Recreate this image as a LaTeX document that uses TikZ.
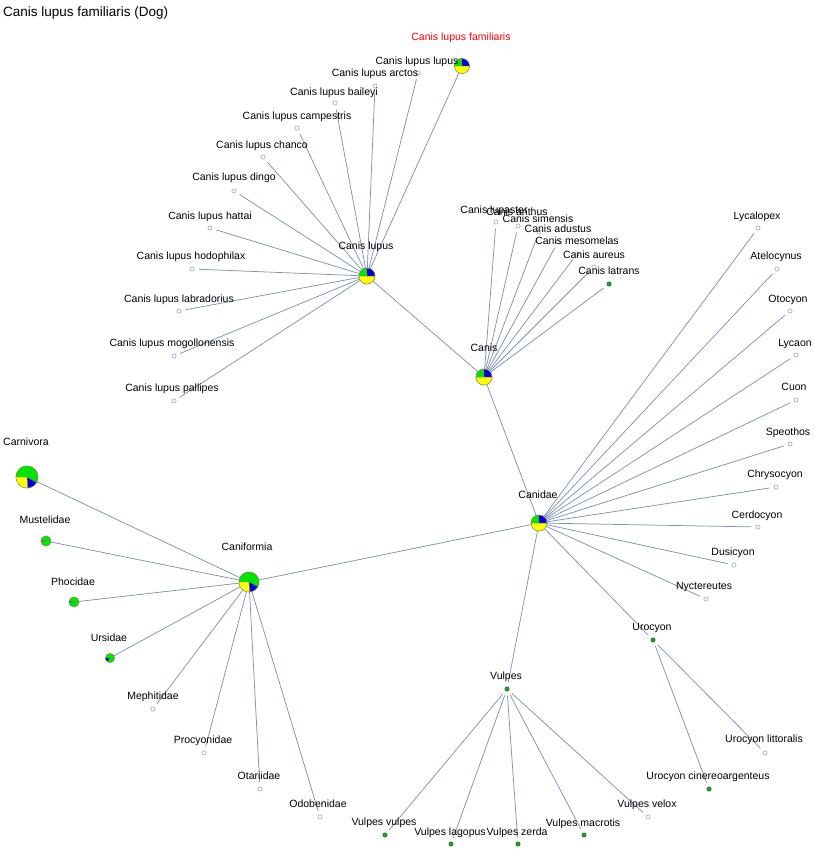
\documentclass[tikz,border=0pt]{standalone}
\usepackage{fontspec}
\setmainfont{Liberation Sans}
\usetikzlibrary{backgrounds}
\definecolor{edgec}{RGB}{128,146,184}
\definecolor{leafc}{RGB}{165,175,200}
\definecolor{rimc}{RGB}{140,135,90}
\definecolor{pgreen}{RGB}{0,230,0}
\definecolor{pblue}{RGB}{0,0,225}
\definecolor{pyellow}{RGB}{255,255,0}
\definecolor{dgreen}{RGB}{40,160,40}
\definecolor{dgreenrim}{RGB}{30,110,30}
\definecolor{redlab}{RGB}{255,0,0}
\tikzset{
 leafh/.style={circle, draw=leafc, fill=white, line width=0.7pt, inner sep=0pt, minimum size=4.2pt, outer sep=4.5pt},
 leafg/.style={circle, draw=dgreenrim, fill=dgreen, line width=0.5pt, inner sep=0pt, minimum size=4.4pt, outer sep=4.5pt},
 pienode/.style={circle, draw=rimc, line width=0.6pt, inner sep=0pt, outer sep=0pt},
 lab/.style={font=\fontsize{10.5}{12}\selectfont, inner sep=0pt, anchor=base},
 conn/.style={draw=edgec, line width=0.75pt},
}
\newcommand\lf[7]{\node[#1] (#2) at (#3,-#4) {}; \node[lab] (#2l) at (#5,-#6-3.6) {#7};}
\newcommand\pwedge[5]{\filldraw[fill=#2, draw=rimc, line width=0.4pt] (#1.center) -- ++(#3:#5pt) arc[start angle=#3, end angle=#4, radius=#5pt] -- cycle;}
\begin{document}
\begin{tikzpicture}[x=1pt,y=1pt]
\useasboundingbox (0,0) rectangle (814,-861);
\node[font=\fontsize{13.5}{16}\selectfont, anchor=base west, inner sep=0pt] (title) at (3,-17) {Canis lupus familiaris (Dog)};

% ---- pies ----
\node[pienode, minimum size=15pt] (fam) at (462,-66) {};
\pwedge{fam}{pyellow}{180}{360}{7.5}
\pwedge{fam}{pblue}{0}{95}{7.5}
\pwedge{fam}{pgreen}{95}{180}{7.5}
\node[lab, text=redlab] (faml) at (461,-40.6) {Canis lupus familiaris};

\node[pienode, minimum size=16pt] (clp) at (367,-276) {};
\pwedge{clp}{pyellow}{180}{360}{8}
\pwedge{clp}{pblue}{0}{95}{8}
\pwedge{clp}{pgreen}{95}{180}{8}
\node[lab] (clpl) at (366,-249.6) {Canis lupus};

\node[pienode, minimum size=16pt] (can) at (484,-377) {};
\pwedge{can}{pyellow}{180}{360}{8}
\pwedge{can}{pblue}{0}{95}{8}
\pwedge{can}{pgreen}{95}{180}{8}
\node[lab] (canl) at (484,-351.6) {Canis};

\node[pienode, minimum size=16pt] (cnd) at (539,-523) {};
\pwedge{cnd}{pyellow}{180}{360}{8}
\pwedge{cnd}{pblue}{0}{95}{8}
\pwedge{cnd}{pgreen}{95}{180}{8}
\node[lab] (cndl) at (538,-498.6) {Canidae};

\node[pienode, minimum size=20pt] (cfm) at (249,-582) {};
\pwedge{cfm}{pgreen}{-28}{180}{10}
\pwedge{cfm}{pyellow}{180}{275}{10}
\pwedge{cfm}{pblue}{275}{332}{10}
\node[lab] (cfml) at (247,-550.6) {Caniformia};

\node[pienode, minimum size=22pt] (car) at (27,-477) {};
\pwedge{car}{pgreen}{-30}{180}{11}
\pwedge{car}{pyellow}{180}{275}{11}
\pwedge{car}{pblue}{275}{330}{11}
\node[lab] (carl) at (26,-445.6) {Carnivora};

\node[pienode, minimum size=10pt] (mus) at (46,-541) {};
\filldraw[fill=pgreen, draw=rimc, line width=0.4pt] (mus.center) circle[radius=5pt];
\pwedge{mus}{pblue}{175}{185}{5}
\node[lab] (musl) at (45,-523.6) {Mustelidae};

\node[pienode, minimum size=10pt] (pho) at (74,-602) {};
\filldraw[fill=pgreen, draw=rimc, line width=0.4pt] (pho.center) circle[radius=5pt];
\pwedge{pho}{pblue}{175}{185}{5}
\node[lab] (phol) at (73,-585.6) {Phocidae};

\node[pienode, minimum size=9pt] (urs) at (110,-658) {};
\filldraw[fill=pgreen, draw=rimc, line width=0.4pt] (urs.center) circle[radius=4.5pt];
\pwedge{urs}{pblue}{180}{235}{4.5}
\node[lab] (ursl) at (109,-641.6) {Ursidae};

% ---- Canis lupus subspecies ----
\lf{leafh}{clu}{418}{73}{417}{61}{Canis lupus lupus}
\lf{leafh}{arc}{375}{86}{375}{73}{Canis lupus arctos}
\lf{leafh}{bai}{335}{103}{334}{92}{Canis lupus baileyi}
\lf{leafh}{cam}{297}{128}{297}{116}{Canis lupus campestris}
\lf{leafh}{cha}{263}{157}{262}{145}{Canis lupus chanco}
\lf{leafh}{din}{234}{191}{234}{177}{Canis lupus dingo}
\lf{leafh}{hat}{210}{228}{210}{216}{Canis lupus hattai}
\lf{leafh}{hod}{192}{269}{191}{256}{Canis lupus hodophilax}
\lf{leafh}{lbr}{179}{311}{179}{299}{Canis lupus labradorius}
\lf{leafh}{mog}{174}{356}{172}{343}{Canis lupus mogollonensis}
\lf{leafh}{pal}{174}{401}{172}{388}{Canis lupus pallipes}

% ---- Canis species ----
\lf{leafh}{lup}{496}{222}{494}{210}{Canis lupaster}
\lf{leafh}{ant}{518}{226}{517}{212}{Canis anthus}
\lf{leafh}{sim}{539}{232}{538}{219}{Canis simensis}
\lf{leafh}{adu}{558}{242}{558}{229}{Canis adustus}
\lf{leafh}{mes}{577}{254}{577}{241}{Canis mesomelas}
\lf{leafh}{aur}{594}{267}{594}{255}{Canis aureus}
\lf{leafg}{lat}{609}{284}{609}{271}{Canis latrans}

% ---- Canidae genera ----
\lf{leafh}{lyc}{758}{228}{757}{216}{Lycalopex}
\lf{leafh}{ate}{777}{269}{776}{256}{Atelocynus}
\lf{leafh}{oto}{790}{311}{788}{299}{Otocyon}
\lf{leafh}{lyn}{796}{355}{795}{343}{Lycaon}
\lf{leafh}{cuo}{796}{400}{794}{387}{Cuon}
\lf{leafh}{spe}{790}{444}{788}{432}{Speothos}
\lf{leafh}{chr}{776}{487}{775}{474}{Chrysocyon}
\lf{leafh}{cer}{758}{527}{757}{515}{Cerdocyon}
\lf{leafh}{dus}{734}{565}{733}{552}{Dusicyon}
\lf{leafh}{nyc}{706}{599}{704}{586}{Nyctereutes}
\lf{leafg}{uro}{653}{640}{652}{627}{Urocyon}
\lf{leafg}{vul}{507}{689}{506}{676}{Vulpes}

% ---- Urocyon ----
\lf{leafh}{ulit}{765}{753}{764}{739}{Urocyon littoralis}
\lf{leafg}{ucin}{709}{789}{708}{776}{Urocyon cinereoargenteus}

% ---- Vulpes ----
\lf{leafg}{vv}{385}{835}{384}{822}{Vulpes vulpes}
\lf{leafg}{vl}{451}{844}{450}{832}{Vulpes lagopus}
\lf{leafg}{vz}{518}{844}{517}{832}{Vulpes zerda}
\lf{leafg}{vm}{584}{835}{583}{823}{Vulpes macrotis}
\lf{leafh}{vvel}{648}{817}{647}{804}{Vulpes velox}

% ---- Caniformia families ----
\lf{leafh}{mep}{153}{709}{153}{696}{Mephitidae}
\lf{leafh}{pro}{204}{753}{203}{740}{Procyonidae}
\lf{leafh}{ota}{260}{789}{259}{776}{Otariidae}
\lf{leafh}{odo}{320}{817}{318}{804}{Odobenidae}

% ---- edges ----
\begin{scope}[on background layer]
\fill[white] (0,0) rectangle (814,-861);
\foreach \a/\b in {car/cfm, cfm/mus, cfm/pho, cfm/urs, cfm/mep, cfm/pro, cfm/ota, cfm/odo, cfm/cnd,
  cnd/can, cnd/lyc, cnd/ate, cnd/oto, cnd/lyn, cnd/cuo, cnd/spe, cnd/chr, cnd/cer, cnd/dus, cnd/nyc, cnd/uro, cnd/vul,
  uro/ulit, uro/ucin,
  vul/vv, vul/vl, vul/vz, vul/vm, vul/vvel,
  can/clp, can/lup, can/ant, can/sim, can/adu, can/mes, can/aur, can/lat,
  clp/fam, clp/clu, clp/arc, clp/bai, clp/cam, clp/cha, clp/din, clp/hat, clp/hod, clp/lbr, clp/mog, clp/pal}
  \draw[conn] (\a) -- (\b);
\end{scope}
\end{tikzpicture}
\end{document}
